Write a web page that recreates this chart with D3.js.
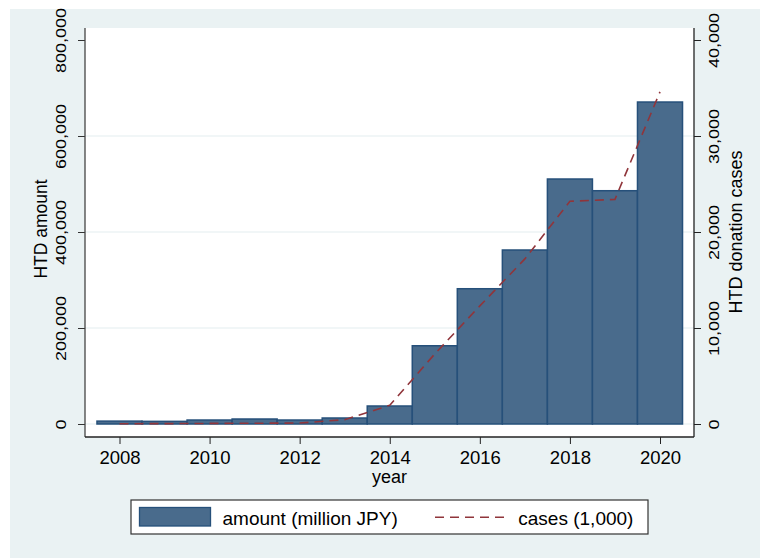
<!DOCTYPE html>
<html>
<head>
<meta charset="utf-8">
<script src="https://cdn.jsdelivr.net/npm/d3@7"></script>
<style>
  body { margin: 0; background: #fff; }
  svg { display: block; font-family: "Liberation Sans", Arial, Helvetica, sans-serif; }
</style>
</head>
<body>
<svg width="760" height="558"></svg>
<script>
// data
var years = [2008, 2009, 2010, 2011, 2012, 2013, 2014, 2015, 2016, 2017, 2018, 2019, 2020];
var amount = [6000, 5500, 8300, 10400, 8300, 12500, 37500, 163000, 281800, 362500, 510400, 486000, 670800];
var cases = [30, 40, 60, 80, 100, 450, 1950, 7300, 12300, 17200, 23200, 23400, 34600];
var xTicks = [2008, 2010, 2012, 2014, 2016, 2018, 2020];
var leftTicks = [0, 200000, 400000, 600000, 800000];
var rightTicks = [0, 10000, 20000, 30000, 40000];
var gridTicks = [0, 200000, 400000, 600000];

var svg = d3.select("svg");

var plotL = 85, plotR = 694, plotT = 28, plotB = 437;
var barFill = "#496b8c", barStroke = "#26507a", lineColor = "#90353b";

var x = d3.scaleLinear().domain([2008, 2020]).range([119.5, 660]);
var y = d3.scaleLinear().domain([0, 800000]).range([424, 40]);
var yR = d3.scaleLinear().domain([0, 40000]).range([424, 40]);

// backgrounds
svg.append("rect")
  .attr("x", 10).attr("y", 9)
  .attr("width", 750).attr("height", 549)
  .attr("fill", "#eaf2f3");

svg.append("rect")
  .attr("x", plotL).attr("y", plotT)
  .attr("width", plotR - plotL).attr("height", plotB - plotT)
  .attr("fill", "#fff");

// grid
svg.append("g")
  .selectAll("line")
  .data(gridTicks)
  .enter()
  .append("line")
  .attr("x1", plotL).attr("x2", plotR)
  .attr("y1", function (d) { return y(d); })
  .attr("y2", function (d) { return y(d); })
  .attr("stroke", "#e3edf0")
  .attr("stroke-width", 1.2);

// bars
var rows = years.map(function (yr, i) { return { year: yr, amount: amount[i], cases: cases[i] }; });

svg.append("g")
  .selectAll("rect")
  .data(rows)
  .enter()
  .append("rect")
  .attr("x", function (d) { return x(d.year - 0.5); })
  .attr("y", function (d) { return y(d.amount); })
  .attr("width", function (d) { return x(d.year + 0.5) - x(d.year - 0.5); })
  .attr("height", function (d) { return y(0) - y(d.amount); })
  .attr("fill", barFill)
  .attr("stroke", barStroke)
  .attr("stroke-width", 1.5);

// cases line
svg.append("path")
  .datum(rows)
  .attr("d", d3.line()
    .x(function (d) { return x(d.year); })
    .y(function (d) { return yR(d.cases); }))
  .attr("fill", "none")
  .attr("stroke", lineColor)
  .attr("stroke-width", 1.6)
  .attr("stroke-dasharray", "9,6");

// axes
var fmt = d3.format(",");

var gL = svg.append("g")
  .attr("transform", "translate(" + plotL + ",0)")
  .style("color", "#333")
  .call(d3.axisLeft(y).tickValues(leftTicks).tickSize(7).tickSizeOuter(0).tickFormat(fmt));
gL.select(".domain").remove();
gL.selectAll("text")
  .attr("x", 0).attr("y", 0).attr("dy", null)
  .attr("text-anchor", "middle")
  .attr("transform", "translate(-19.3,0) rotate(-90) scale(1,0.85)")
  .attr("fill", "#000")
  .style("font-size", "18px");

var gR = svg.append("g")
  .attr("transform", "translate(" + plotR + ",0)")
  .style("color", "#222")
  .call(d3.axisRight(yR).tickValues(rightTicks).tickSize(7).tickSizeOuter(0).tickFormat(fmt));
gR.select(".domain").remove();
gR.selectAll("text")
  .attr("x", 0).attr("y", 0).attr("dy", null)
  .attr("text-anchor", "middle")
  .attr("transform", "translate(25.3,0) rotate(-90) scale(1,0.85)")
  .attr("fill", "#000")
  .style("font-size", "18px");

var gB = svg.append("g")
  .attr("transform", "translate(0," + plotB + ")")
  .style("color", "#222")
  .call(d3.axisBottom(x).tickValues(xTicks).tickSize(7).tickSizeOuter(0).tickFormat(d3.format("d")));
gB.select(".domain").remove();
gB.selectAll("text")
  .attr("y", 27).attr("dy", null)
  .attr("fill", "#000")
  .style("font-size", "18.5px");

// axis lines
svg.append("line").attr("x1", plotL).attr("x2", plotL).attr("y1", plotT).attr("y2", plotB)
  .attr("stroke", "#444").attr("stroke-width", 1.3);
svg.append("line").attr("x1", plotR).attr("x2", plotR).attr("y1", plotT).attr("y2", plotB)
  .attr("stroke", "#222").attr("stroke-width", 1.3);
svg.append("line").attr("x1", plotL).attr("x2", plotR).attr("y1", plotB).attr("y2", plotB)
  .attr("stroke", "#222").attr("stroke-width", 1.3);

// axis titles
svg.append("text")
  .attr("transform", "translate(46.7,229) rotate(-90)")
  .attr("text-anchor", "middle")
  .style("font-size", "17.5px")
  .text("HTD amount");

svg.append("text")
  .attr("transform", "translate(742,232) rotate(-90)")
  .attr("text-anchor", "middle")
  .style("font-size", "18px")
  .text("HTD donation cases");

svg.append("text")
  .attr("x", (plotL + plotR) / 2)
  .attr("y", 483)
  .attr("text-anchor", "middle")
  .style("font-size", "18px")
  .text("year");

// legend
var lg = svg.append("g");
lg.append("rect")
  .attr("x", 131).attr("y", 500)
  .attr("width", 517).attr("height", 34)
  .attr("fill", "#fff")
  .attr("stroke", "#333")
  .attr("stroke-width", 1.2);
lg.append("rect")
  .attr("x", 139.5).attr("y", 507.5)
  .attr("width", 71).attr("height", 18.5)
  .attr("fill", barFill)
  .attr("stroke", barStroke)
  .attr("stroke-width", 1.3);
lg.append("text")
  .attr("x", 222.5).attr("y", 525)
  .style("font-size", "19px")
  .text("amount (million JPY)");
lg.append("line")
  .attr("x1", 435).attr("x2", 507)
  .attr("y1", 517.3).attr("y2", 517.3)
  .attr("stroke", lineColor)
  .attr("stroke-width", 1.6)
  .attr("stroke-dasharray", "9,6");
lg.append("text")
  .attr("x", 518.3).attr("y", 525)
  .style("font-size", "19px")
  .text("cases (1,000)");
</script>
</body>
</html>
